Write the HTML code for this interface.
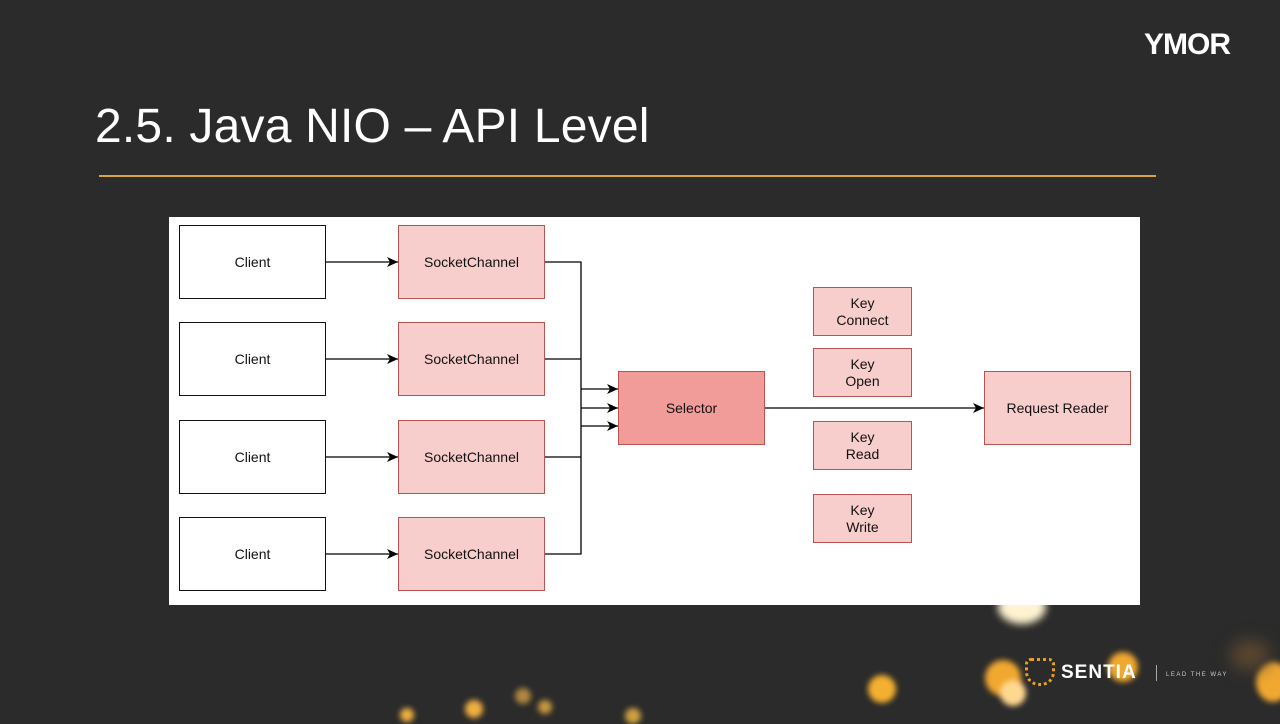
<!DOCTYPE html>
<html><head><meta charset="utf-8"><style>
body{margin:0;width:1280px;height:720px;background:#2b2b2b;position:relative;overflow:hidden;font-family:"Liberation Sans",sans-serif}
.t{position:absolute;left:95px;top:99px;color:#fff;font-size:48px;letter-spacing:0.2px}
.line{position:absolute;left:99px;top:175px;width:1057px;height:1.5px;background:#d9a441}
.ymor{position:absolute;left:1144px;top:28px;color:#fff;font-size:30px;font-weight:bold;letter-spacing:-1px}
.dia{position:absolute;left:169px;top:217px;width:971px;height:388px;background:#fff}
.b{position:absolute;box-sizing:border-box;display:flex;align-items:center;justify-content:center;text-align:center;font-size:14px;color:#111;line-height:17px}
.c{border:1.5px solid #111;background:#fff}
.s{border:1.5px solid #b85450;background:#f8cecc}
.bok{position:absolute;border-radius:50%;filter:blur(3px)}
</style></head><body>
<div class="t">2.5. Java NIO – API Level</div>
<div class="line"></div>
<div class="ymor">YMOR</div>
<div class="bok" style="left:998px;top:590px;width:48px;height:34px;background:#fff3d0;filter:blur(4px)"></div>
<div class="bok" style="left:985px;top:660px;width:36px;height:36px;background:#f0a830"></div>
<div class="bok" style="left:1000px;top:680px;width:26px;height:26px;background:#ffd890"></div>
<div class="bok" style="left:1108px;top:652px;width:30px;height:30px;background:#f0a830"></div>
<div class="bok" style="left:868px;top:675px;width:28px;height:28px;background:#f5b030"></div>
<div class="bok" style="left:1256px;top:662px;width:34px;height:40px;background:#f0a830"></div>
<div class="bok" style="left:1230px;top:640px;width:40px;height:30px;background:#5a4630;filter:blur(8px)"></div>
<div class="bok" style="left:515px;top:688px;width:16px;height:16px;background:#b08840"></div>
<div class="bok" style="left:465px;top:700px;width:18px;height:18px;background:#f0b040"></div>
<div class="bok" style="left:538px;top:700px;width:14px;height:14px;background:#c89840"></div>
<div class="bok" style="left:400px;top:708px;width:14px;height:14px;background:#f0b040"></div>
<div class="bok" style="left:625px;top:708px;width:16px;height:16px;background:#d0a040"></div>
<div style="position:absolute;left:1025px;top:658px;width:30px;height:28px;border:3px dotted #e8a020;border-radius:6px 6px 14px 14px;box-sizing:border-box"></div>
<div style="position:absolute;left:1061px;top:662px;color:#fff;font-size:19px;font-weight:bold;letter-spacing:1px">SENTIA</div>
<div style="position:absolute;left:1156px;top:665px;width:1px;height:16px;background:#aaa"></div>
<div style="position:absolute;left:1166px;top:672px;color:#ccc;font-size:6px;letter-spacing:1.5px">LEAD THE WAY</div>
<div class="dia">
<svg width="971" height="388" style="position:absolute;left:0;top:0">
<defs><marker id="a" markerWidth="11" markerHeight="10" refX="11" refY="5" orient="auto" markerUnits="userSpaceOnUse"><path d="M0,0L11,5L0,10L3,5z" fill="#000"/></marker></defs>
<g stroke="#000" stroke-width="1.3" fill="none">
<line x1="157" y1="45" x2="229" y2="45" marker-end="url(#a)"/>
<line x1="157" y1="142" x2="229" y2="142" marker-end="url(#a)"/>
<line x1="157" y1="240" x2="229" y2="240" marker-end="url(#a)"/>
<line x1="157" y1="337" x2="229" y2="337" marker-end="url(#a)"/>
<polyline points="376,45 412,45 412,337 376,337"/>
<line x1="376" y1="142" x2="412" y2="142"/>
<line x1="376" y1="240" x2="412" y2="240"/>
<line x1="412" y1="172" x2="449" y2="172" marker-end="url(#a)"/>
<line x1="412" y1="191" x2="449" y2="191" marker-end="url(#a)"/>
<line x1="412" y1="209" x2="449" y2="209" marker-end="url(#a)"/>
<line x1="596" y1="191" x2="815" y2="191" marker-end="url(#a)"/>
</g></svg>
<div class="b c" style="left:10px;top:8px;width:147px;height:74px">Client</div>
<div class="b c" style="left:10px;top:105px;width:147px;height:74px">Client</div>
<div class="b c" style="left:10px;top:203px;width:147px;height:74px">Client</div>
<div class="b c" style="left:10px;top:300px;width:147px;height:74px">Client</div>
<div class="b s" style="left:229px;top:8px;width:147px;height:74px">SocketChannel</div>
<div class="b s" style="left:229px;top:105px;width:147px;height:74px">SocketChannel</div>
<div class="b s" style="left:229px;top:203px;width:147px;height:74px">SocketChannel</div>
<div class="b s" style="left:229px;top:300px;width:147px;height:74px">SocketChannel</div>
<div class="b s" style="left:449px;top:154px;width:147px;height:74px;background:#f19c99">Selector</div>
<div class="b s" style="left:815px;top:154px;width:147px;height:74px">Request Reader</div>
<div class="b s" style="left:644px;top:70px;width:99px;height:49px">Key<br>Connect</div>
<div class="b s" style="left:644px;top:131px;width:99px;height:49px">Key<br>Open</div>
<div class="b s" style="left:644px;top:204px;width:99px;height:49px">Key<br>Read</div>
<div class="b s" style="left:644px;top:277px;width:99px;height:49px">Key<br>Write</div>
</div>
</body></html>
